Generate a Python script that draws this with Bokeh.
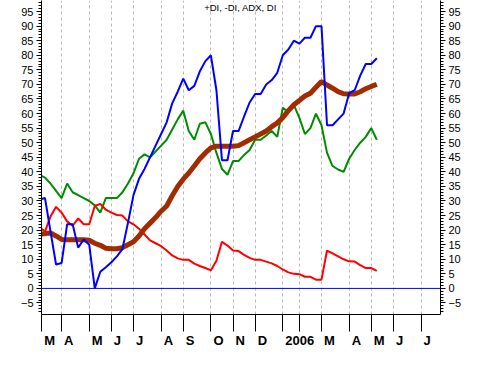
from bokeh.plotting import figure
from bokeh.models import Range1d, LinearAxis, FixedTicker, Grid, Span, Label
from bokeh.embed import file_html
from bokeh.resources import INLINE

# weekly index (week -1 is the partially visible first point)
weeks = list(range(-1, 61))

plus_di = [30.5, 31, 19.5, 8.2, 8.7, 22, 22, 14, 16.8, 15, 0, 5.7, 7.3, 9, 11, 13.5,
           22.5, 32, 37.6, 41, 45, 49, 53, 57, 63.5, 67.5, 72, 68, 69.5, 74.5, 78, 80,
           68, 44, 44, 54, 54, 59, 63.8, 66.7, 66.7, 70, 71.5, 74, 80, 82, 85,
           84, 86, 86, 90, 90, 56, 56, 58, 60, 67, 68, 73, 77, 77, 79]

minus_di = [21, 19.5, 24.7, 28, 26, 23, 21.5, 24, 22, 22, 28.3, 29, 27, 26, 25.2, 25,
            23, 22, 20.5, 18.5, 16.5, 15.5, 14.5, 13, 11.3, 10.3, 9.8, 9.8, 8.5, 7.7, 7, 6.2,
            9.5, 16, 14.7, 13, 12.8, 11.5, 10.5, 9.8, 9.8, 9.2, 8.6, 7.7, 6.5, 5.5, 5,
            4.9, 4, 4, 3, 3, 13, 12, 11, 10, 9.3, 9.2, 8, 7, 7, 6]

di = [39, 38, 36, 33.5, 31, 36, 33, 32, 31, 30, 28.5, 26, 31, 31, 31, 33,
      36, 39.5, 44.5, 46, 45, 47, 49, 51, 54.5, 58, 61, 54, 51, 56.5, 57, 53,
      46.5, 41, 39, 43.7, 43.7, 45.8, 47.5, 51, 51, 52.5, 54, 52, 62, 60.5, 63,
      58.5, 53, 55, 60, 56, 46.5, 42, 40.8, 40, 44.5, 47.5, 50, 52, 55, 51]

adx = [18.5, 18.8, 19, 18, 16.8, 16.7, 16.7, 16.7, 16.7, 16.5, 15.5, 14.8, 13.8, 13.6, 13.6, 14,
       15, 16, 18, 20.5, 22.4, 24.3, 26.5, 28.3, 31.8, 35, 37.5, 39.6, 42, 44.5, 46.5, 48.2,
       48.8, 48.8, 48.8, 48.8, 49, 50, 51, 52, 53, 54, 55.5, 56.8, 58.6, 61, 63,
       64.5, 66, 67, 69, 71, 69.8, 68.7, 67.5, 66.8, 66.7, 66.7, 67.5, 68.5, 69.3, 70]

# first week of each month (Mar 2005 .. Jul 2006)
month_ticks = [-0.6, 3, 8, 12, 16, 21, 25, 30, 34, 38, 43, 46, 50, 55, 59, 63, 68]
month_labels = ["M", "A", "M", "J", "J", "A", "S", "O", "N", "D", "2006", "", "M", "A", "M", "J", "J"]

y_major = list(range(-5, 100, 5))
y_minor = list(range(-8, 99))

X0, X1 = -0.633, 71.52
Y0, Y1 = -8.95, 98.8
W, H = 465, 350
BL, BR, BT, BB = 41, 25, 0, 17

p = figure(width=W, height=H, x_range=Range1d(X0, X1), y_range=Range1d(Y0, Y1),
           x_axis_type=None, y_axis_type=None, output_backend="svg", toolbar_location=None,
           min_border_left=BL, min_border_right=BR, min_border_top=BT, min_border_bottom=BB)
p.outline_line_color = None
p.background_fill_color = "white"
p.border_fill_color = "white"

# label placement: left edge just right of each month tick line
px_per_week = (W - BL - BR) / (X1 - X0)
FS = 13
cw = {"M": .833, "A": .722, "J": .556, "S": .667, "O": .778, "N": .722, "D": .722,
      "2": .556, "0": .556, "6": .556}
label_pos = []
overrides = {}
for t, lab in zip(month_ticks, month_labels):
    if not lab:
        continue
    w = sum(cw[c] for c in lab) * FS
    pos = round(t + (2.5 + w / 2) / px_per_week, 3)
    label_pos.append(pos)
    overrides[pos] = lab

xaxis = LinearAxis(ticker=FixedTicker(ticks=label_pos, minor_ticks=month_ticks))
xaxis.major_label_overrides = overrides
xaxis.major_tick_line_color = None
xaxis.major_tick_out = 0
xaxis.major_tick_in = 0
xaxis.minor_tick_out = 17
xaxis.minor_tick_in = 0
xaxis.minor_tick_line_color = "black"
xaxis.axis_line_color = "black"
xaxis.major_label_standoff = 1
xaxis.major_label_text_font = "Liberation Sans"
xaxis.major_label_text_font_style = "bold"
xaxis.major_label_text_font_size = f"{FS}px"
xaxis.major_label_text_color = "black"
p.add_layout(xaxis, "below")

for side, standoff in (("left", 3), ("right", 3)):
    ax = LinearAxis(ticker=FixedTicker(ticks=y_major, minor_ticks=y_minor))
    ax.major_tick_out = 5
    ax.major_tick_in = 0
    ax.minor_tick_out = 3
    ax.minor_tick_in = 0
    ax.axis_line_color = "black"
    ax.major_tick_line_color = "black"
    ax.minor_tick_line_color = "black"
    ax.major_label_standoff = standoff
    ax.major_label_text_font = "Liberation Sans"
    ax.major_label_text_font_size = "11px"
    ax.major_label_text_color = "black"
    p.add_layout(ax, side)

grid = Grid(dimension=0, ticker=FixedTicker(ticks=month_ticks[1:]))
grid.grid_line_color = "#b8b8b8"
grid.grid_line_dash = "3 3"
grid.grid_line_width = 1
p.add_layout(grid)

p.add_layout(Span(location=0, dimension="width", line_color="#0000ff", line_width=1))

p.line(weeks, di, line_color="#008c00", line_width=2)
p.line(weeks, minus_di, line_color="#ff0000", line_width=2)
p.line(weeks, adx, line_color="#a02c00", line_width=5)
p.line(weeks, plus_di, line_color="#0000ff", line_width=2)

title_x = X0 + (240 - 41) / px_per_week
p.add_layout(Label(x=title_x, y=Y1 - 0.4, text="+DI, -DI, ADX, DI", text_align="center",
                   text_baseline="top", text_font="Liberation Sans", text_font_size="9.5px",
                   text_color="black"))

open("out.html", "w").write(file_html(p, INLINE))
